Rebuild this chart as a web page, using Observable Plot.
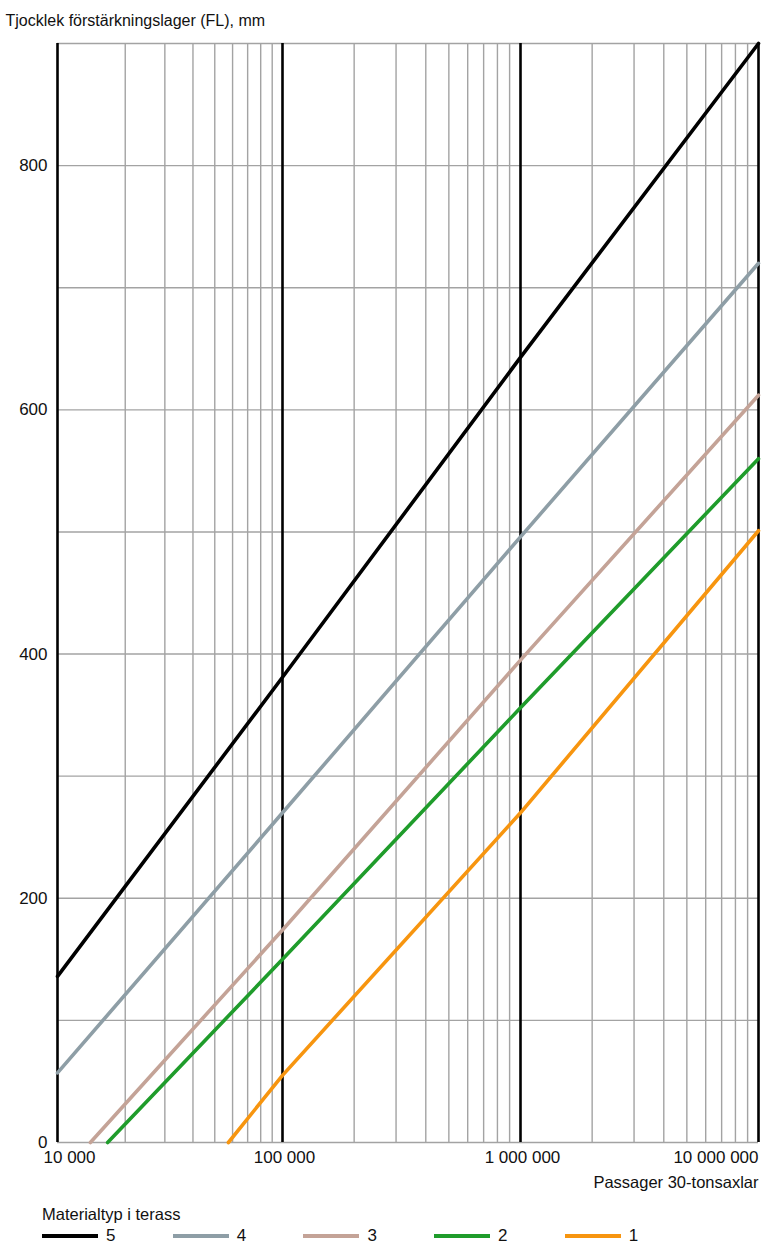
<!DOCTYPE html>
<html>
<head>
<meta charset="utf-8">
<script src="https://cdn.jsdelivr.net/npm/d3@7"></script>
<script src="https://cdn.jsdelivr.net/npm/@observablehq/plot@0.6"></script>
<style>
  body { margin: 0; background: #fff; font-family: "Liberation Sans", Arial, sans-serif; color: #111; }
  #wrap { position: relative; width: 768px; height: 1250px; }
  #legend { position: absolute; left: 42px; top: 1204px; font-size: 16.5px; }
  #legend .title { height: 20px; line-height: 20px; }
  #legend .items { display: flex; margin-top: 2px; }
  #legend .item { width: 130.7px; display: flex; align-items: center; font-size: 17px; }
  #legend .sw { width: 56px; height: 4.5px; margin-right: 8px; }
</style>
</head>
<body>
<div id="wrap"></div>
<script>
// Series (material type in terrace) and read values: passages vs thickness (mm)
const seriesNames = ["5", "4", "3", "2", "1"];
const seriesColors = ["#000000", "#8e9ea6", "#c4a397", "#1f9c2b", "#f7950f"];
const passages5 = [1e4, 1e5, 1e6, 1e7];
const thickness5 = [136, 381, 643, 900];
const passages4 = [1e4, 1e5, 1e6, 1e7];
const thickness4 = [57, 270, 496, 720];
const passages3 = [1.4e4, 1e5, 1e6, 1e7];
const thickness3 = [0, 174, 395, 612];
const passages2 = [1.67e4, 1e5, 1e6, 1e7];
const thickness2 = [0, 150, 356, 560];
const passages1 = [5.75e4, 1e5, 1e6, 1e7];
const thickness1 = [0, 55, 270, 501];

const decades = [1e4, 1e5, 1e6, 1e7];
const minorMultipliers = [2, 3, 4, 5, 6, 7, 8, 9];
const yGrid = [0, 100, 200, 300, 400, 500, 600, 700, 800, 900];
const yTickLabels = [0, 200, 400, 600, 800];
const xTickLabels = ["10 000", "100 000", "1 000 000", "10 000 000"];
const yTitle = "Tjocklek förstärkningslager (FL), mm";
const xTitle = "Passager 30-tonsaxlar";
const legendTitle = "Materialtyp i terass";

const allSeries = [
  [passages5, thickness5], [passages4, thickness4], [passages3, thickness3],
  [passages2, thickness2], [passages1, thickness1]
];
const data = allSeries.flatMap(([xs, ys], i) =>
  xs.map((x, j) => ({ series: seriesNames[i], x, y: ys[j] })));

const minor = decades.slice(0, 3).flatMap(d => minorMultipliers.map(m => d * m));
const xLabels = decades.map((d, i) => ({ x: d, label: xTickLabels[i] }));

const font = '"Liberation Sans", Arial, sans-serif';

const chart = Plot.plot({
  width: 768,
  height: 1200,
  marginTop: 43,
  marginBottom: 58,
  marginLeft: 57,
  marginRight: 10,
  style: { fontFamily: font, fontSize: "16px", color: "#111", background: "#fff" },
  // the printed chart's first decade is drawn slightly narrower than the others
  x: { type: "log", domain: decades, range: [57, 282, 520, 758], axis: null },
  y: { domain: [0, 900], axis: null },
  color: { domain: seriesNames, range: seriesColors },
  marks: [
    Plot.ruleX(minor, { stroke: "#a3a3a3", strokeWidth: 1.4 }),
    Plot.ruleY(yGrid, { stroke: "#a3a3a3", strokeWidth: 1.4 }),
    Plot.ruleX(decades, { stroke: "#000", strokeWidth: 2.6 }),
    Plot.line(data, { x: "x", y: "y", z: "series", stroke: "series", strokeWidth: 3.6 }),
    Plot.axisY(yTickLabels, { tickSize: 0, tickPadding: 10, fontSize: 17, label: null, tickFormat: d => String(d) }),
    Plot.text(xLabels.slice(0, 1), { x: "x", text: "label", frameAnchor: "bottom", dy: 20, dx: -14, textAnchor: "start", fontSize: 17 }),
    Plot.text(xLabels.slice(1, 3), { x: "x", text: "label", frameAnchor: "bottom", dy: 20, dx: 2, textAnchor: "middle", fontSize: 17 }),
    Plot.text(xLabels.slice(3), { x: "x", text: "label", frameAnchor: "bottom", dy: 20, dx: 0, textAnchor: "end", fontSize: 17 }),
    Plot.text([xTitle], { frameAnchor: "bottom-right", dy: 45, dx: 0, textAnchor: "end", fontSize: 16.5 }),
    Plot.text([yTitle], { frameAnchor: "top-left", dy: -29, dx: -52, textAnchor: "start", fontSize: 16 })
  ]
});

const wrap = document.getElementById("wrap");
wrap.appendChild(chart);

const legend = document.createElement("div");
legend.id = "legend";
legend.innerHTML = `<div class="title">${legendTitle}</div><div class="items">` +
  seriesNames.map((s, i) => `<div class="item"><span class="sw" style="background:${seriesColors[i]}"></span>${s}</div>`).join("") +
  `</div>`;
wrap.appendChild(legend);
</script>
</body>
</html>
